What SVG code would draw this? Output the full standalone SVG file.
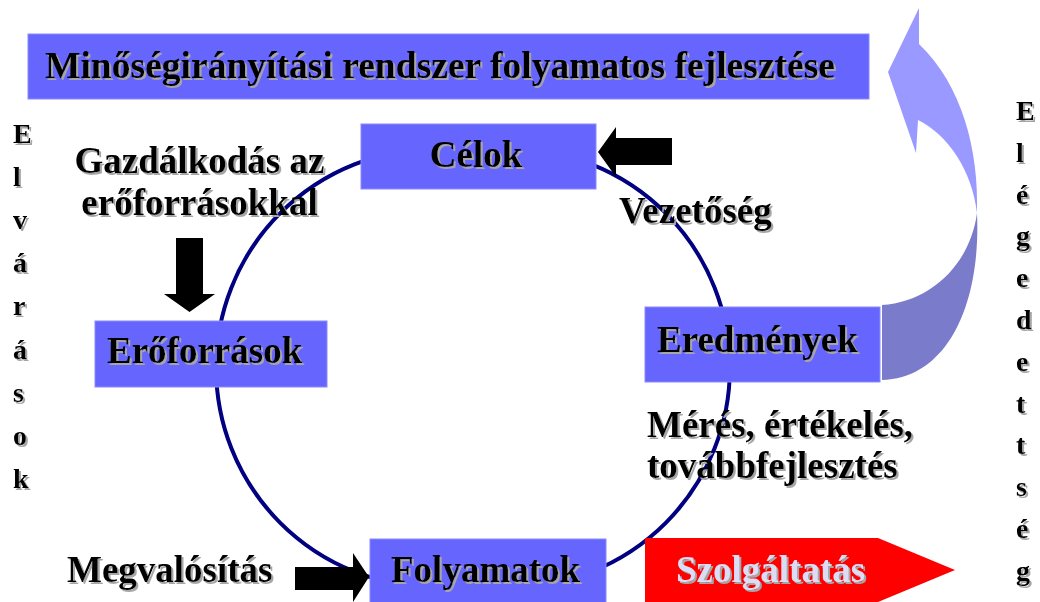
<svg xmlns="http://www.w3.org/2000/svg" width="1040" height="602" viewBox="0 0 1040 602">
  <defs>
    <filter id="sh" x="-5%" y="-20%" width="110%" height="140%">
      <feDropShadow dx="2" dy="2" stdDeviation="0.4" flood-color="#a6a6a6" flood-opacity="1"/>
    </filter>
  </defs>
  <style>
    .box { fill: #6666ff; stroke: #8a8aff; stroke-width: 1; }
    .t { font-family: "Liberation Serif", "Times New Roman", serif; font-weight: bold; font-size: 37px; fill: #000; filter: url(#sh); }
    .v { font-family: "Liberation Serif", "Times New Roman", serif; font-weight: bold; font-size: 28px; fill: #000; filter: url(#sh); }
    .ring { fill: none; stroke: #000080; stroke-width: 4; }
    .blk { fill: #000; }
  </style>
  <rect width="1040" height="602" fill="#fff"/>

  <g id="connectors">
    <path class="ring" d="M 435,149 A 219 219 0 0 0 435,587 L 511,587 A 219 219 0 0 0 511,149 Z"/>
    <polygon class="blk" points="672,138 616,138 616,127 598,152 616,177 616,165 672,165"/>
    <polygon class="blk" points="176,238 203,238 203,294 215,294 189.5,312 164,294 176,294"/>
    <polygon class="blk" points="295,567 353,567 353,553 369,577 353,602 353,590 295,590"/>
    <path d="M 977,213 C 979,150 962,85 919,44 L 919,8 L 888,72 L 916,153 L 918,120 C 948,135 972,170 977,213 Z" fill="#9999ff"/>
    <path d="M 977,213 C 981,300 950,378 882,380 L 882,305 C 930,302 970,265 977,213 Z" fill="#7b7bcc"/>
  </g>

  <g id="title">
    <rect class="box" x="28" y="34" width="841" height="65"/>
    <text class="t" x="45" y="78" textLength="790" lengthAdjust="spacingAndGlyphs">Minőségirányítási rendszer folyamatos fejlesztése</text>
  </g>
  <g id="celok">
    <rect class="box" x="361" y="124" width="235" height="65"/>
    <text class="t" x="476" y="167" text-anchor="middle">Célok</text>
  </g>
  <g id="gazdalkodas">
    <text class="t" x="199.5" y="173" text-anchor="middle">Gazdálkodás az</text>
    <text class="t" x="199.5" y="215" text-anchor="middle">erőforrásokkal</text>
  </g>
  <g id="vezetoseg">
    <text class="t" x="619" y="223">Vezetőség</text>
  </g>
  <g id="eroforrasok">
    <rect class="box" x="95" y="321" width="232" height="66"/>
    <text class="t" x="107" y="363">Erőforrások</text>
  </g>
  <g id="eredmenyek">
    <rect class="box" x="645" y="307" width="235" height="75"/>
    <text class="t" x="657" y="352">Eredmények</text>
  </g>
  <g id="meres">
    <text class="t" x="647" y="437">Mérés, értékelés,</text>
    <text class="t" x="647" y="478">továbbfejlesztés</text>
  </g>
  <g id="megvalositas">
    <text class="t" x="67" y="582">Megvalósítás</text>
  </g>
  <g id="folyamatok">
    <rect class="box" x="370" y="539" width="236" height="66"/>
    <text class="t" x="391" y="582">Folyamatok</text>
  </g>
  <g id="szolgaltatas">
    <polygon points="645,538 878,538 955,570 878,602 645,602" fill="#ff0000"/>
    <text class="t" x="676" y="582" style="fill:#dcdcf4;">Szolgáltatás</text>
  </g>
  <g id="elvarasok">
    <text class="v" x="13" y="143">E<tspan x="13" dy="43.1">l</tspan><tspan x="13" dy="43.1">v</tspan><tspan x="13" dy="43.1">á</tspan><tspan x="13" dy="43.1">r</tspan><tspan x="13" dy="43.1">á</tspan><tspan x="13" dy="43.1">s</tspan><tspan x="13" dy="43.1">o</tspan><tspan x="13" dy="43.1">k</tspan></text>
  </g>
  <g id="elegedettseg">
    <text class="v" x="1016" y="120">E<tspan x="1016" dy="41.8">l</tspan><tspan x="1016" dy="41.8">é</tspan><tspan x="1016" dy="41.8">g</tspan><tspan x="1016" dy="41.8">e</tspan><tspan x="1016" dy="41.8">d</tspan><tspan x="1016" dy="41.8">e</tspan><tspan x="1016" dy="41.8">t</tspan><tspan x="1016" dy="41.8">t</tspan><tspan x="1016" dy="41.8">s</tspan><tspan x="1016" dy="41.8">é</tspan><tspan x="1016" dy="41.8">g</tspan></text>
  </g>
</svg>
